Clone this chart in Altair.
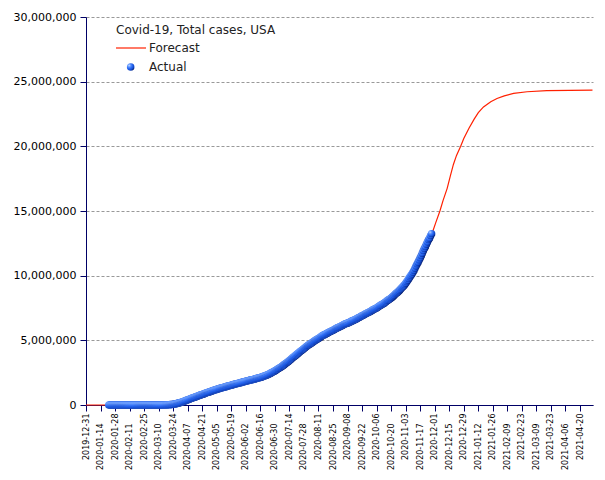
import altair as alt
import pandas as pd

BASE = pd.Timestamp("2019-12-31")
NAVY = "#000066"
RED = "#ff2000"

# ---- Actual cumulative cases (thousands), daily, by month ----
jan_start = "2020-01-22"
jan_k = [0, 0, 0, 0, 0, 0, 0, 0, 0, 0]
feb_k = [0, 0, 0, 0, 0, 0, 0, 0, 0, 0, 0, 0, 0, 0, 0, 0, 0, 0, 0, 0,
         0, 0, 0, 0, 0, 0, 0, 0, 0]
mar_k = [0.08, 0.1, 0.12, 0.16, 0.22, 0.32, 0.42, 0.54, 0.75, 1.0,
         1.3, 1.7, 2.2, 2.7, 3.5, 4.6, 6.4, 7.8, 13.7, 19.1,
         25.5, 33.3, 43.8, 53.7, 65.8, 83.8, 101.7, 121.5, 140.9, 161.8, 188.2]
apr_k = [213.4, 243.6, 275.6, 308.9, 337.1, 366.7, 397.1, 429.1, 462.8, 496.5,
         526.4, 555.3, 580.6, 607.7, 636.4, 667.8, 699.7, 732.2, 759.1, 784.3,
         811.9, 840.4, 869.2, 905.4, 939.0, 965.8, 988.2, 1012.6, 1039.9, 1069.4]
may_k = [1103.5, 1132.5, 1158.0, 1180.4, 1204.4, 1229.3, 1257.0, 1283.9, 1309.5, 1329.3,
         1347.9, 1369.4, 1390.7, 1417.8, 1443.4, 1467.8, 1486.8, 1508.3, 1528.6, 1551.9,
         1577.1, 1600.9, 1622.6, 1643.2, 1662.4, 1681.2, 1699.9, 1721.8, 1746.0, 1770.2, 1790.2]
jun_k = [1811.3, 1831.8, 1851.5, 1872.7, 1897.4, 1920.1, 1938.8, 1956.4, 1973.8, 1994.3,
         2017.1, 2041.6, 2066.9, 2086.3, 2105.2, 2128.3, 2154.4, 2182.4, 2214.1, 2246.7,
         2273.3, 2304.0, 2339.1, 2375.6, 2415.8, 2461.5, 2505.7, 2547.1, 2587.7, 2634.2]
jul_k = [2686.5, 2741.8, 2799.4, 2845.8, 2895.6, 2937.9, 2998.5, 3061.1, 3119.0, 3186.0,
         3247.7, 3307.0, 3367.5, 3431.6, 3498.9, 3576.2, 3647.6, 3711.4, 3773.1, 3834.8,
         3898.6, 3970.9, 4040.9, 4113.4, 4179.1, 4234.0, 4295.8, 4362.4, 4431.2, 4498.1, 4566.3]
aug_k = [4624.0, 4670.6, 4717.2, 4771.1, 4823.9, 4883.7, 4943.0, 4997.9, 5044.9, 5094.4,
         5146.1, 5201.7, 5253.5, 5317.2, 5368.6, 5404.1, 5438.3, 5482.6, 5529.0, 5573.4,
         5622.4, 5667.1, 5701.4, 5739.8, 5776.7, 5821.8, 5867.8, 5914.7, 5959.6, 5995.7, 6027.5]
sep_k = [6073.6, 6104.6, 6148.9, 6202.2, 6245.3, 6276.1, 6300.3, 6327.0, 6361.0, 6396.1,
         6443.7, 6485.1, 6520.1, 6555.3, 6594.2, 6632.6, 6677.3, 6725.3, 6767.0, 6801.1,
         6854.7, 6894.7, 6933.1, 6977.1, 7032.5, 7078.2, 7114.3, 7147.6, 7190.6, 7233.0]
oct_k = [7277.8, 7333.9, 7382.2, 7417.9, 7458.5, 7502.0, 7552.8, 7609.9, 7667.9, 7718.7,
         7763.5, 7805.2, 7857.6, 7917.0, 7981.4, 8051.2, 8106.0, 8154.4, 8214.5, 8275.9,
         8337.3, 8408.4, 8490.1, 8574.8, 8638.5, 8705.4, 8779.6, 8858.8, 8946.2, 9045.6, 9127.3]
nov_k = [9207.2, 9291.7, 9418.8, 9522.2, 9643.4, 9771.1, 9897.6, 10003.5, 10122.0, 10257.9,
         10401.4, 10565.4, 10740.2, 10906.4, 11044.8, 11210.3, 11371.2, 11543.7, 11731.5, 11927.8,
         12096.0, 12240.4, 12423.2, 12597.3, 12779.4, 12890.9, 13088.8, 13246.0]

month_blocks = [
    (jan_start, jan_k), ("2020-02-01", feb_k), ("2020-03-01", mar_k),
    ("2020-04-01", apr_k), ("2020-05-01", may_k), ("2020-06-01", jun_k),
    ("2020-07-01", jul_k), ("2020-08-01", aug_k), ("2020-09-01", sep_k),
    ("2020-10-01", oct_k), ("2020-11-01", nov_k),
]

# ---- Forecast (millions) ----
fc_dates = ["2019-12-31", "2020-01-22", "2020-03-01", "2020-03-15", "2020-03-24",
            "2020-04-01", "2020-04-15", "2020-05-01", "2020-05-15", "2020-06-01",
            "2020-06-15", "2020-07-01", "2020-07-15", "2020-08-01", "2020-08-15",
            "2020-09-01", "2020-09-15", "2020-10-01", "2020-10-15", "2020-11-01",
            "2020-11-15", "2020-11-22", "2020-11-29", "2020-12-02", "2020-12-06",
            "2020-12-09", "2020-12-13", "2020-12-16", "2020-12-19", "2020-12-22",
            "2020-12-26", "2020-12-29", "2021-01-03", "2021-01-08", "2021-01-12",
            "2021-01-17", "2021-01-24", "2021-01-30", "2021-02-06", "2021-02-15",
            "2021-02-28", "2021-03-19", "2021-04-10", "2021-05-02"]
fc_values = [0, 0, 0, 0.004, 0.05,
             0.21, 0.64, 1.10, 1.44, 1.81,
             2.11, 2.69, 3.50, 4.62, 5.37,
             6.07, 6.59, 7.28, 7.98, 9.21,
             11.04, 12.24, 13.4, 14.1, 15.0,
             15.8, 16.75, 17.7, 18.6, 19.3,
             20.0, 20.6, 21.4, 22.1, 22.6,
             23.05, 23.45, 23.7, 23.9, 24.1,
             24.22, 24.3, 24.33, 24.35]

x_tick_days = list(range(0, 477, 14))
y_ticks = [0, 5000000, 10000000, 15000000, 20000000, 25000000, 30000000]

# ---- Build tables ----
rows = []
for start, vals in month_blocks:
    dates = pd.date_range(start, periods=len(vals), freq="D")
    for d, v in zip(dates, vals):
        rows.append({"day": (d - BASE).days, "cases": v * 1000})
actual_df = pd.DataFrame(rows)

fc_df = pd.DataFrame({
    "day": [(pd.Timestamp(d) - BASE).days for d in fc_dates],
    "cases": [v * 1e6 for v in fc_values],
})

# sphere lit from the upper left: bright left/top edge, dark lower-right edge
ball = alt.RadialGradient(
    gradient="radial",
    stops=[
        alt.GradientStop(color="#d2e4ff", offset=0),
        alt.GradientStop(color="#6a9eff", offset=0.2),
        alt.GradientStop(color="#2d6cf5", offset=0.45),
        alt.GradientStop(color="#1550d8", offset=0.68),
        alt.GradientStop(color="#0a2c90", offset=0.85),
        alt.GradientStop(color="#000a40", offset=1),
    ],
    x1=0.3, y1=0.3, r1=0, x2=0.3, y2=0.3, r2=0.85,
)

x_axis = alt.Axis(
    values=x_tick_days,
    labelExpr="utcFormat(utc(2019,11,31) + datum.value*86400000, '%Y-%m-%d')",
    labelAngle=270,
    labelFont="DejaVu Sans",
    labelFontSize=8,
    labelColor="black",
    labelPadding={"condition": {"test": "datum.value % 28 == 14", "value": 12}, "value": 2},
    labelOverlap=False,
    labelFlush=False,
    labelBound=False,
    tickSize=6,
    tickColor=NAVY,
    domainColor=NAVY,
    grid=False,
    title=None,
)
x_scale = alt.Scale(domain=[0, 488.5], nice=False, zero=False)
y_axis = alt.Axis(
    values=y_ticks,
    format=",d",
    labelFont="DejaVu Sans",
    labelFontSize=11,
    labelColor="black",
    labelPadding=4,
    tickSize=6,
    tickColor=NAVY,
    domainColor=NAVY,
    grid=True,
    gridDash=[3, 2],
    gridColor="#999999",
    title=None,
)
y_scale = alt.Scale(domain=[0, 30000000], nice=False)

forecast = alt.Chart(fc_df).mark_line(color=RED, strokeWidth=1.2).encode(
    x=alt.X("day:Q", scale=x_scale, axis=x_axis),
    y=alt.Y("cases:Q", scale=y_scale, axis=y_axis),
)
actual = alt.Chart(actual_df).mark_circle(
    color=ball, size=58, opacity=1, strokeWidth=0
).encode(
    x=alt.X("day:Q", scale=x_scale, axis=x_axis),
    y=alt.Y("cases:Q", scale=y_scale, axis=y_axis),
)

one = pd.DataFrame({"k": [0]})
txt = dict(align="left", baseline="middle", font="DejaVu Sans", fontSize=12, color="#222222")
leg_title = alt.Chart(one).mark_text(**txt).encode(
    x=alt.value(30), y=alt.value(13), text=alt.value("Covid-19, Total cases, USA"))
leg_line = alt.Chart(one).mark_rule(color=RED, strokeWidth=1.2).encode(
    x=alt.value(30), x2=alt.value(60), y=alt.value(31))
leg_fc = alt.Chart(one).mark_text(**txt).encode(
    x=alt.value(63), y=alt.value(31), text=alt.value("Forecast"))
leg_ball = alt.Chart(one).mark_circle(color=ball, size=58, opacity=1).encode(
    x=alt.value(44.7), y=alt.value(50))
leg_act = alt.Chart(one).mark_text(**txt).encode(
    x=alt.value(63), y=alt.value(50), text=alt.value("Actual"))

chart = alt.layer(
    forecast, actual, leg_title, leg_line, leg_fc, leg_ball, leg_act
).properties(
    width=507,
    height=388,
    autosize=alt.AutoSizeParams(type="none"),
    padding={"left": 78, "top": 9, "right": 4, "bottom": 67},
    background="white",
).configure_view(stroke=None).configure_axis(labelOverlap=False)

chart.save("out.html", embed_options={"renderer": "svg", "actions": False})
